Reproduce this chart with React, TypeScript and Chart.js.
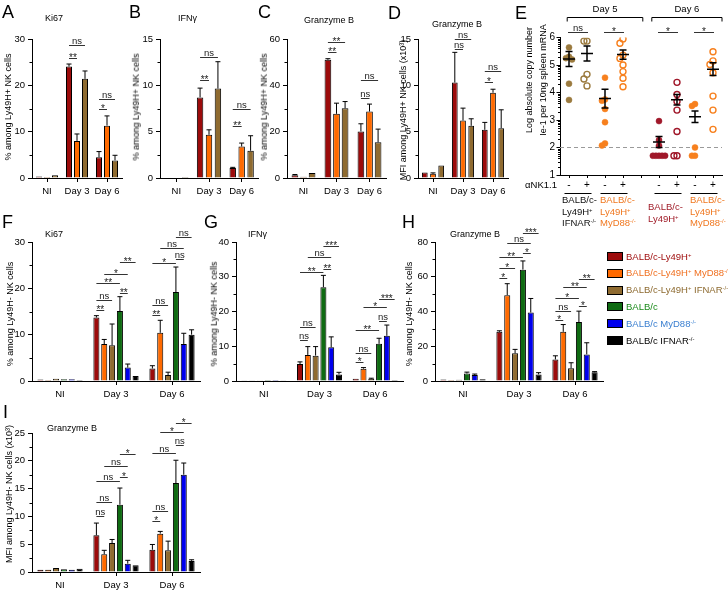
import { Fragment, useEffect, useRef } from "react"
import { Chart, registerables } from "chart.js"

Chart.register(...registerables)

const FONT = "'Liberation Sans', Arial, Helvetica, sans-serif"
Chart.defaults.font.family = FONT
Chart.defaults.color = "#000"

const DAYS = ["NI", "Day 3", "Day 6"]
const STRAINS = [
  "BALB/c-Ly49H+",
  "BALB/c-Ly49H+ MyD88-/-",
  "BALB/c-Ly49H+ IFNAR-/-",
  "BALB/c",
  "BALB/c MyD88-/-",
  "BALB/c IFNAR-/-",
]
const BAR_COLORS = ["#9c0b0b", "#ff6a00", "#8f6b30", "#0f6b12", "#0000ee", "#000000"]
const LEGEND_COLORS = ["#a01010", "#f07020", "#8d6a30", "#1a8a1a", "#3a7fd0", "#000000"]

// one row per strain, one column per day (NI, Day 3, Day 6); sem = upper error bar
// A: Ki67, Ly49H+ NK cells
const ki67Pos = [[0.3, 24.05, 4.5], [0.2, 8.0, 11.3], [0.6, 21.4, 3.8]]
const ki67PosSem = [[0.05, 0.55, 1.2], [0.05, 1.5, 2.1], [0.05, 1.7, 1.1]]
// B: IFNg, Ly49H+ NK cells
const ifngPos = [[0.05, 8.7, 1.08], [0.05, 4.66, 3.4], [0.1, 9.65, 2.94]]
const ifngPosSem = [[0.02, 1.0, 0.07], [0.02, 0.54, 0.37], [0.03, 2.9, 1.62]]
// C: Granzyme B %, Ly49H+ NK cells
const gzmbPos = [[1.2, 51.0, 20.1], [0.5, 27.7, 28.7], [2.2, 30.1, 15.4]]
const gzmbPosSem = [[0.3, 0.5, 3.3], [0.1, 4.6, 3.2], [0.1, 2.9, 5.7]]
// D: Granzyme B MFI (x10^3), Ly49H+ NK cells
const gzmbMfiPos = [[0.6, 10.3, 5.2], [0.45, 6.2, 9.2], [1.35, 5.63, 5.38]]
const gzmbMfiPosSem = [[0.05, 3.26, 0.8], [0.1, 1.34, 0.38], [0, 0.76, 1.98]]
// F: Ki67, Ly49H- NK cells
const ki67Neg = [[0.3, 13.7, 2.7], [0.2, 7.97, 10.4], [0.5, 7.7, 1.3], [0.4, 15.1, 19.2], [0.4, 2.9, 8.0], [0.2, 1.08, 10.0]]
const ki67NegSem = [[0.05, 0.4, 0.6], [0.05, 1.0, 2.7], [0.05, 4.6, 0.6], [0.05, 3.1, 5.4], [0.05, 0.76, 2.3], [0.02, 0.1, 1.05]]
// G: IFNg, Ly49H- NK cells
const ifngNeg = [[0.1, 4.9, 0.67], [0.1, 7.5, 3.56], [0.05, 7.3, 0.6], [0.3, 27.0, 10.7], [0.3, 9.7, 13.0], [0.1, 1.9, 0.3]]
const ifngNegSem = [[0.02, 0.6, 0.13], [0.02, 2.4, 0.3], [0.02, 2.6, 0.2], [0.05, 3.4, 1.6], [0.05, 3.0, 3.1], [0.02, 0.6, 0.1]]
// H: Granzyme B %, Ly49H- NK cells
const gzmbNeg = [[0.8, 28.3, 12.4], [0.6, 49.4, 28.3], [0.7, 15.9, 7.3], [4.3, 64.1, 33.9], [3.4, 39.4, 15.3], [1.0, 3.8, 5.0]]
const gzmbNegSem = [[0.1, 0.6, 2.1], [0.1, 6.6, 4.2], [0.1, 2.3, 3.2], [0.8, 5.0, 6.3], [0.6, 8.1, 6.7], [0.1, 1.0, 0.4]]
// I: Granzyme B MFI (x10^3), Ly49H- NK cells
const gzmbMfiNeg = [[0.4, 6.6, 4.0], [0.4, 3.2, 6.9], [0.7, 5.2, 3.9], [0.5, 12.1, 16.0], [0.4, 1.5, 17.5], [0.6, 1.2, 2.0]]
const gzmbMfiNegSem = [[0.05, 2.2, 0.95], [0.05, 0.7, 0.4], [0.05, 0.65, 1.65], [0.05, 3.0, 4.1], [0.05, 0.6, 2.1], [0.05, 0.1, 0.2]]

// significance: [day, strain a, strain b, line level (axis units), label]
type Bracket = [number, number, number, number, string]
const ki67PosSig: Bracket[] = [[1, 0, 1, 25.9, "**"], [1, 0, 2, 28.7, "ns"], [2, 0, 1, 14.9, "*"], [2, 0, 2, 17.05, "ns"]]
const ifngPosSig: Bracket[] = [[1, 0, 1, 10.57, "**"], [1, 0, 2, 13.06, "ns"], [2, 0, 1, 5.6, "**"], [2, 0, 2, 7.45, "ns"]]
const gzmbPosSig: Bracket[] = [[1, 0, 1, 54.4, "**"], [1, 0, 2, 58.7, "**"], [2, 0, 1, 34.5, "ns"], [2, 0, 2, 42.3, "ns"]]
const gzmbMfiPosSig: Bracket[] = [[1, 0, 1, 13.9, "ns"], [1, 0, 2, 15.0, "ns"], [2, 0, 1, 10.36, "*"], [2, 0, 2, 11.55, "ns"]]
const ki67NegSig: Bracket[] = [
  [1, 0, 1, 15.3, "**"], [1, 0, 2, 17.5, "ns"], [1, 3, 4, 19.0, "**"], [1, 0, 3, 21.15, "**"], [1, 1, 4, 23.1, "*"], [1, 3, 5, 25.7, "**"],
  [2, 0, 1, 14.25, "**"], [2, 0, 2, 16.4, "ns"], [2, 0, 3, 25.5, "*"], [2, 3, 4, 26.3, "ns"], [2, 1, 4, 28.7, "ns"], [2, 3, 5, 31.1, "ns"],
]
const ifngNegSig: Bracket[] = [
  [1, 0, 1, 11.8, "ns"], [1, 0, 2, 15.5, "ns"], [1, 0, 3, 31.4, "**"], [1, 3, 4, 32.2, "**"], [1, 1, 4, 35.7, "ns"], [1, 3, 5, 38.8, "***"],
  [2, 0, 1, 5.5, "*"], [2, 0, 2, 8.1, "ns"], [2, 0, 3, 14.7, "**"], [2, 3, 4, 17.3, "ns"], [2, 1, 4, 21.3, "*"], [2, 3, 5, 23.6, "***"],
]
const gzmbNegSig: Bracket[] = [
  [1, 0, 1, 59.3, "*"], [1, 0, 2, 65, "*"], [1, 0, 3, 71.4, "**"], [1, 3, 4, 73.7, "*"], [1, 1, 4, 79.4, "ns"], [1, 3, 5, 85.2, "***"],
  [2, 0, 1, 35.1, "*"], [2, 0, 2, 40.3, "ns"], [2, 3, 4, 43.2, "*"], [2, 0, 3, 47.8, "*"], [2, 1, 4, 54.1, "**"], [2, 3, 5, 58.7, "**"],
]
const gzmbMfiNegSig: Bracket[] = [
  [1, 0, 1, 10.07, "ns"], [1, 0, 2, 12.6, "ns"], [1, 0, 3, 16.4, "ns"], [1, 3, 4, 17.1, "*"], [1, 1, 4, 19.06, "ns"], [1, 3, 5, 21.2, "*"],
  [2, 0, 1, 9.2, "*"], [2, 0, 2, 10.97, "ns"], [2, 0, 3, 21.4, "ns"], [2, 3, 4, 22.8, "ns"], [2, 1, 4, 25.2, "*"], [2, 3, 5, 26.8, "*"],
]

// E: log ie-1 copies per 10ng spleen mRNA, one array per group (- / + anti-NK1.1)
const e5IfnarCtrl = [5.64, 5.3, 5.25, 5.2, 4.32, 3.73]
const e5IfnarDep = [5.87, 5.87, 4.66, 4.49, 4.24]
const e5MyD88Ctrl = [4.54, 3.75, 3.7, 3.4, 2.92, 2.15, 2.07]
const e5MyD88Dep = [5.95, 5.79, 5.36, 5.24, 5.0, 4.76, 4.52, 4.21]
const e6Ly49hCtrl = [2.96, 2.27, 2.07, 1.7, 1.7, 1.7, 1.7, 1.7]
const e6Ly49hDep = [4.37, 3.93, 3.67, 3.36, 2.58, 1.7, 1.7]
const e6MyD88Ctrl = [3.58, 3.51, 2.0, 1.7, 1.7]
const e6MyD88Dep = [5.48, 5.15, 5.02, 4.72, 3.87, 3.36, 2.66]
const eMeans = [5.22, 5.42, 3.78, 5.38, 2.2, 3.74, 3.12, 4.85]
const eSems = [0.27, 0.27, 0.34, 0.17, 0.2, 0.19, 0.21, 0.23]
const eSig: [number, number, string][] = [[0, 1, "ns"], [2, 3, "*"], [4, 5, "*"], [6, 7, "*"]]
const E_LOD = 2
const E_SLOTS = [0.5, 1.5, 2.5, 3.5, 5.5, 6.5, 7.5, 8.5]
const E_COLORS = ["#9b7a3e", "#9b7a3e", "#f7801e", "#f7801e", "#a0182a", "#a0182a", "#f7801e", "#f7801e"]

type Pt = { x: number; y: number }

// spread points of one column sideways so equal values do not hide each other
function swarm(values: number[], step = 0.17, tol = 0.2) {
  const placed: { v: number; d: number }[] = []
  return values.map((v) => {
    for (let k = 0; ; k++) {
      const d = k === 0 ? 0 : (k % 2 ? -1 : 1) * Math.ceil(k / 2) * step
      if (!placed.some((p) => Math.abs(p.v - v) < tol && Math.abs(p.d - d) < step * 0.9)) {
        placed.push({ v, d })
        return d
      }
    }
  })
}

interface BarProps {
  plot: [number, number, number, number]
  means: number[][]
  sems: number[][]
  yMax: number
  yStep: number
  brackets: Bracket[]
  catPct: number
  barPct: number
}

function BarPanel({ plot, means, sems, yMax, yStep, brackets, catPct, barPct }: BarProps) {
  const ref = useRef<HTMLCanvasElement>(null)
  const [l, t, r, b] = plot
  const left = l - 26
  const top = t - 36
  const width = r + 6 - left
  const height = b + 21 - top

  useEffect(() => {
    if (!ref.current) return
    const extras = {
      id: "barExtras",
      afterDatasetsDraw(chart: Chart) {
        const ctx = chart.ctx
        const ys = chart.scales.y
        const area = chart.chartArea
        const barAt = (i: number, j: number) => chart.getDatasetMeta(i).data[j] as unknown as Pt
        ctx.save()
        ctx.lineWidth = 1
        ctx.strokeStyle = "#000"
        ctx.beginPath()
        sems.forEach((row, i) =>
          row.forEach((s, j) => {
            const bar = barAt(i, j)
            const tip = ys.getPixelForValue(means[i][j] + s)
            if (bar.y - tip < 0.6) return
            ctx.moveTo(bar.x, bar.y)
            ctx.lineTo(bar.x, tip)
            ctx.moveTo(bar.x - 2.5, tip)
            ctx.lineTo(bar.x + 2.5, tip)
          })
        )
        // minor ticks
        for (let v = yStep / 2; v < yMax; v += yStep) {
          const py = Math.round(ys.getPixelForValue(v)) + 0.5
          ctx.moveTo(area.left - 2.5, py)
          ctx.lineTo(area.left, py)
        }
        ctx.stroke()

        ctx.strokeStyle = "#333"
        ctx.fillStyle = "#222"
        ctx.textAlign = "center"
        brackets.forEach(([c, a, z, v, label]) => {
          const xa = barAt(a, c).x
          const xb = barAt(z, c).x
          const py = Math.round(ys.getPixelForValue(v)) + 0.5
          ctx.beginPath()
          ctx.moveTo(xa, py)
          ctx.lineTo(xb, py)
          ctx.stroke()
          const star = label !== "ns"
          ctx.font = `${star ? 10 : 9.5}px ${FONT}`
          ctx.fillText(label, (xa + xb) / 2, star ? py + 2 : py - 2)
        })
        ctx.restore()
      },
    }

    const chart = new Chart(ref.current, {
      type: "bar",
      data: {
        labels: DAYS,
        datasets: means.map((m, i) => ({
          label: STRAINS[i],
          data: m,
          backgroundColor: BAR_COLORS[i],
          borderColor: "#000",
          borderWidth: 1,
          categoryPercentage: catPct,
          barPercentage: barPct,
        })),
      },
      options: {
        responsive: false,
        animation: false,
        layout: { padding: { top: 36, right: 6, bottom: 0, left: 0 } },
        plugins: { legend: { display: false }, tooltip: { enabled: false } },
        scales: {
          x: {
            grid: { drawOnChartArea: false, offset: false, tickLength: 4, color: "#000" },
            border: { color: "#000" },
            ticks: { padding: 4, font: { size: 9.5 }, color: "#000", autoSkip: false, maxRotation: 0 },
            afterFit: (s: any) => {
              s.height = 21
            },
          },
          y: {
            min: 0,
            max: yMax,
            grid: { drawOnChartArea: false, tickLength: 4, color: "#000" },
            border: { color: "#000" },
            ticks: { stepSize: yStep, padding: 3, font: { size: 9.5 }, color: "#000" },
            afterFit: (s: any) => {
              s.width = 26
            },
          },
        },
      },
      plugins: [extras],
    } as any)

    return () => chart.destroy()
  }, [])

  return <canvas ref={ref} width={width} height={height} style={{ position: "absolute", left, top, width, height }} />
}

function EPanel() {
  const ref = useRef<HTMLCanvasElement>(null)

  useEffect(() => {
    if (!ref.current) return
    const cols = [e5IfnarCtrl, e5IfnarDep, e5MyD88Ctrl, e5MyD88Dep, e6Ly49hCtrl, e6Ly49hDep, e6MyD88Ctrl, e6MyD88Dep]
    const days: [string, number, number][] = [["Day 5", 0.4, 4.6], ["Day 6", 5.1, 9.0]]

    const extras = {
      id: "eExtras",
      beforeDatasetsDraw(chart: Chart) {
        const { ctx, chartArea: ca } = chart
        const py = chart.scales.y.getPixelForValue(E_LOD)
        ctx.save()
        ctx.strokeStyle = "#9a9a9a"
        ctx.lineWidth = 1.2
        ctx.setLineDash([4, 3])
        ctx.beginPath()
        ctx.moveTo(ca.left, py)
        ctx.lineTo(ca.right, py)
        ctx.stroke()
        ctx.restore()
      },
      afterDatasetsDraw(chart: Chart) {
        const { ctx, chartArea: ca } = chart
        const xs = chart.scales.x
        const ys = chart.scales.y
        ctx.save()
        ctx.strokeStyle = "#000"
        ctx.lineWidth = 1
        ctx.beginPath()
        for (let k = 1; k < 6; k++)
          for (let m = 2; m < 10; m++) {
            const py = Math.round(ys.getPixelForValue(k + Math.log10(m))) + 0.5
            ctx.moveTo(ca.left - 2, py)
            ctx.lineTo(ca.left, py)
          }
        ctx.stroke()

        // mean and SEM
        ctx.lineWidth = 1.5
        ctx.beginPath()
        eMeans.forEach((m, i) => {
          const x = xs.getPixelForValue(E_SLOTS[i])
          const yM = ys.getPixelForValue(m)
          const yH = ys.getPixelForValue(m + eSems[i])
          const yL = ys.getPixelForValue(m - eSems[i])
          ctx.moveTo(x - 6, yM)
          ctx.lineTo(x + 6, yM)
          ctx.moveTo(x, yH)
          ctx.lineTo(x, yL)
          ctx.moveTo(x - 3.5, yH)
          ctx.lineTo(x + 3.5, yH)
          ctx.moveTo(x - 3.5, yL)
          ctx.lineTo(x + 3.5, yL)
        })
        ctx.stroke()

        ctx.lineWidth = 1
        ctx.strokeStyle = "#333"
        ctx.fillStyle = "#222"
        ctx.textAlign = "center"
        const sigY = Math.round(ys.getPixelForValue(6.2)) + 0.5
        eSig.forEach(([a, z, label]) => {
          const xa = xs.getPixelForValue(E_SLOTS[a]) - 1
          const xb = xs.getPixelForValue(E_SLOTS[z]) + 1
          ctx.beginPath()
          ctx.moveTo(xa, sigY)
          ctx.lineTo(xb, sigY)
          ctx.stroke()
          const star = label !== "ns"
          ctx.font = `${star ? 10 : 9.5}px ${FONT}`
          ctx.fillText(label, (xa + xb) / 2, star ? sigY + 2 : sigY - 2)
        })

        // day brackets
        ctx.strokeStyle = "#000"
        ctx.fillStyle = "#000"
        ctx.font = `9.5px ${FONT}`
        const dayY = Math.round(ys.getPixelForValue(6.75)) + 0.5
        days.forEach(([label, from, to]) => {
          const xa = xs.getPixelForValue(from)
          const xb = xs.getPixelForValue(to)
          ctx.beginPath()
          ctx.moveTo(xa, dayY + 4)
          ctx.lineTo(xa, dayY)
          ctx.lineTo(xb, dayY)
          ctx.lineTo(xb, dayY + 4)
          ctx.stroke()
          ctx.fillText(label, (xa + xb) / 2, dayY - 5.5)
        })

        // anti-NK1.1 row
        ctx.font = `10px ${FONT}`
        ctx.textBaseline = "middle"
        E_SLOTS.forEach((s, i) => ctx.fillText(i % 2 ? "+" : "-", xs.getPixelForValue(s), ca.bottom + 10))
        ctx.beginPath()
        for (let i = 0; i < E_SLOTS.length; i += 2) {
          const py = ca.bottom + 18.5
          ctx.moveTo(xs.getPixelForValue(E_SLOTS[i] - 0.25), py)
          ctx.lineTo(xs.getPixelForValue(E_SLOTS[i + 1] + 0.25), py)
        }
        ctx.stroke()
        ctx.restore()
      },
    }

    const chart = new Chart(ref.current, {
      type: "scatter",
      data: {
        datasets: cols.map((vals, i) => {
          const dx = swarm(vals)
          const filled = i % 2 === 0
          return {
            data: vals.map((v, k) => ({ x: E_SLOTS[i] + dx[k], y: v })),
            pointRadius: 3,
            pointHoverRadius: 3,
            pointBackgroundColor: filled ? E_COLORS[i] : "rgba(255,255,255,0)",
            pointBorderColor: E_COLORS[i],
            pointBorderWidth: filled ? 0.5 : 1.4,
            showLine: false,
          }
        }),
      },
      options: {
        responsive: false,
        animation: false,
        layout: { padding: { top: 37.5, right: 6, bottom: 56, left: 0 } },
        plugins: { legend: { display: false }, tooltip: { enabled: false } },
        scales: {
          x: {
            type: "linear",
            min: 0,
            max: 9,
            afterBuildTicks: (s: any) => {
              s.ticks = Array.from({ length: 9 }, (_, i) => ({ value: i + 0.5 }))
            },
            ticks: { display: false },
            grid: { drawOnChartArea: false, tickLength: 3, color: "#000" },
            border: { color: "#000" },
            afterFit: (s: any) => {
              s.height = 4
            },
          },
          y: {
            min: 1,
            max: 6,
            ticks: { stepSize: 1, padding: 1.5, font: { size: 10 }, color: "#000" },
            grid: { drawOnChartArea: false, tickLength: 3.5, color: "#000" },
            border: { color: "#000" },
            afterFit: (s: any) => {
              s.width = 40
            },
          },
        },
      },
      plugins: [extras],
    } as any)

    return () => chart.destroy()
  }, [])

  return <canvas ref={ref} width={208} height={235} style={{ position: "absolute", left: 520, top: 0, width: 208, height: 235 }} />
}

// "Ly49H+" / "MyD88-/-" -> superscript genotype marks
function rich(s: string) {
  return s.split(/(\+|-\/-)/).map((part, i) =>
    i % 2 ? (
      <sup key={i} style={{ fontSize: "0.62em", lineHeight: 0, verticalAlign: "0.5em" }}>
        {part}
      </sup>
    ) : (
      <Fragment key={i}>{part}</Fragment>
    )
  )
}

function Text({ x, y, size = 9, color = "#000", children }: any) {
  return (
    <div style={{ position: "absolute", left: x, top: y, transform: "translateY(-50%)", fontSize: size, lineHeight: 1, color, whiteSpace: "nowrap" }}>
      {children}
    </div>
  )
}

function VText({ x, y, size = 9, lineHeight = 1.15, children }: any) {
  return (
    <div
      style={{
        position: "absolute",
        left: x,
        top: y,
        transform: "translate(-50%, -50%) rotate(-90deg)",
        fontSize: size,
        lineHeight: `${lineHeight}`,
        whiteSpace: "nowrap",
        textAlign: "center",
      }}
    >
      {children}
    </div>
  )
}

function Letter({ x, y, children }: any) {
  return <div style={{ position: "absolute", left: x, top: y, fontSize: 18, lineHeight: "18px" }}>{children}</div>
}

function GroupLabel({ x, y, color, lines }: { x: number; y: number; color: string; lines: string[] }) {
  return (
    <div style={{ position: "absolute", left: x, top: y, fontSize: 9.5, lineHeight: "11.5px", color, whiteSpace: "nowrap" }}>
      {lines.map((ln, i) => (
        <div key={i}>{rich(ln)}</div>
      ))}
    </div>
  )
}

function Legend() {
  return (
    <>
      {STRAINS.map((name, i) => {
        const cy = 256.5 + i * 16.8
        return (
          <Fragment key={name}>
            <div
              style={{
                position: "absolute",
                left: 607,
                top: cy - 4.5,
                width: 16,
                height: 9,
                boxSizing: "border-box",
                border: "1.5px solid #000",
                background: BAR_COLORS[i],
              }}
            />
            <Text x={626} y={cy} size={9.5} color={LEGEND_COLORS[i]}>
              {rich(name)}
            </Text>
          </Fragment>
        )
      })}
    </>
  )
}

export default function App() {
  return (
    <div
      style={{
        position: "absolute",
        left: 0,
        top: 0,
        width: 728,
        height: 593,
        overflow: "hidden",
        background: "#fff",
        fontFamily: FONT,
        color: "#000",
      }}
    >
      <BarPanel plot={[32, 39, 122, 178]} means={ki67Pos} sems={ki67PosSem} yMax={30} yStep={10} brackets={ki67PosSig} catPct={0.8} barPct={0.75} />
      <BarPanel plot={[160, 39, 258, 178]} means={ifngPos} sems={ifngPosSem} yMax={15} yStep={5} brackets={ifngPosSig} catPct={0.82} barPct={0.72} />
      <BarPanel plot={[287, 39, 386, 178]} means={gzmbPos} sems={gzmbPosSem} yMax={60} yStep={20} brackets={gzmbPosSig} catPct={0.78} barPct={0.78} />
      <BarPanel plot={[418, 39, 508, 178]} means={gzmbMfiPos} sems={gzmbMfiPosSem} yMax={15} yStep={5} brackets={gzmbMfiPosSig} catPct={0.82} barPct={0.7} />
      <EPanel />
      <BarPanel plot={[32, 242, 200, 381]} means={ki67Neg} sems={ki67NegSem} yMax={30} yStep={10} brackets={ki67NegSig} catPct={0.84} barPct={0.77} />
      <BarPanel plot={[236, 242, 403, 381]} means={ifngNeg} sems={ifngNegSem} yMax={40} yStep={10} brackets={ifngNegSig} catPct={0.84} barPct={0.77} />
      <BarPanel plot={[435, 242, 603, 381]} means={gzmbNeg} sems={gzmbNegSem} yMax={80} yStep={20} brackets={gzmbNegSig} catPct={0.84} barPct={0.77} />
      <BarPanel plot={[32, 433, 200, 572]} means={gzmbMfiNeg} sems={gzmbMfiNegSem} yMax={25} yStep={5} brackets={gzmbMfiNegSig} catPct={0.84} barPct={0.77} />

      <Letter x={2} y={3}>A</Letter>
      <Letter x={129} y={3}>B</Letter>
      <Letter x={258} y={3}>C</Letter>
      <Letter x={388} y={4}>D</Letter>
      <Letter x={515} y={4}>E</Letter>
      <Letter x={2} y={213}>F</Letter>
      <Letter x={204} y={213}>G</Letter>
      <Letter x={402} y={213}>H</Letter>
      <Letter x={3} y={403}>I</Letter>

      <Text x={45} y={18}>Ki67</Text>
      <Text x={178} y={18}>IFNγ</Text>
      <Text x={304} y={20}>Granzyme B</Text>
      <Text x={432} y={24}>Granzyme B</Text>
      <Text x={45} y={234}>Ki67</Text>
      <Text x={248} y={234}>IFNγ</Text>
      <Text x={450} y={234}>Granzyme B</Text>
      <Text x={47} y={428}>Granzyme B</Text>

      <VText x={8} y={107}>% among Ly49H+ NK cells</VText>
      <VText x={136} y={107}>% among Ly49H+ NK cells</VText>
      <VText x={264} y={107}>% among Ly49H+ NK cells</VText>
      <VText x={403} y={110}>MFI among Ly49H+ NK cells (x10³)</VText>
      <VText x={535.5} y={80} lineHeight={1.5}>
        Log absolute copy number
        <br />
        Ie-1 per 10ng spleen mRNA
      </VText>
      <VText x={10} y={314}>% among Ly49H- NK cells</VText>
      <VText x={214} y={314}>% among Ly49H- NK cells</VText>
      <VText x={409} y={314}>% among Ly49H- NK cells</VText>
      <VText x={9} y={494}>MFI among Ly49H- NK cells (x10³)</VText>

      <div style={{ position: "absolute", left: 497, top: 185, width: 60, transform: "translateY(-50%)", fontSize: 9.5, lineHeight: 1, textAlign: "right" }}>
        αNK1.1
      </div>
      <GroupLabel x={562} y={194} color="#111" lines={["BALB/c-", "Ly49H+", "IFNAR-/-"]} />
      <GroupLabel x={600} y={194} color="#f07820" lines={["BALB/c-", "Ly49H+", "MyD88-/-"]} />
      <GroupLabel x={648} y={201} color="#a01c28" lines={["BALB/c-", "Ly49H+"]} />
      <GroupLabel x={690} y={194} color="#f07820" lines={["BALB/c-", "Ly49H+", "MyD88-/-"]} />

      <Legend />
    </div>
  )
}
